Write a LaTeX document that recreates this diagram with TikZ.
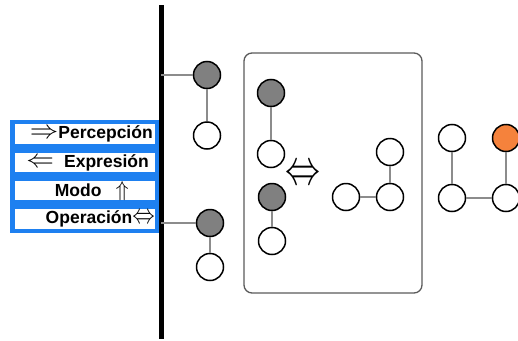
\documentclass[tikz,border=0pt]{standalone}
\usepackage{fontspec}
\setmainfont{Liberation Sans}
\usetikzlibrary{positioning}
\definecolor{panelblue}{RGB}{30,128,240}
\definecolor{linkgray}{RGB}{140,140,140}
\definecolor{dotgray}{RGB}{128,128,128}
\definecolor{hotorange}{RGB}{245,130,60}
\definecolor{framegray}{RGB}{90,90,90}

\begin{document}
\begin{tikzpicture}[x=1pt, y=-1pt,
        state/.style={circle, draw=black, line width=1.5pt, minimum size=27pt, inner sep=0pt},
        active/.style={state, fill=dotgray},
        idle/.style={state, fill=white},
        link/.style={draw=linkgray, line width=1.8pt},
        rowbox/.style={draw=panelblue, line width=4.5pt, fill=white, text width=140.5pt, inner sep=2pt, minimum height=23.75pt, align=right, font=\bfseries\fontsize{17.5}{17.5}\selectfont}]
        \useasboundingbox (0,0) rectangle (518,340);

        % mode panel
        \node[rowbox] (perc) at (84.5,134.1) {\scalebox{1.65}[1.5]{$\Rightarrow$}Percepción\kern2pt};
        \node[rowbox] (expr) at (84.5,162.4) {\scalebox{1.6}[1.5]{$\Leftarrow$}\hspace{10pt}Expresión\kern6pt};
        \node[rowbox] (mode) at (84.5,190.6) {Modo\hspace{14pt}\scalebox{1.25}{$\Uparrow$}\kern26pt};
        \node[rowbox] (oper) at (84.5,218.9) {Operación\scalebox{1.3}[1.6]{$\Leftrightarrow$}};

        % bar
        \coordinate (bartop) at (161,5);
        \coordinate (barbot) at (161,339);
        \draw[line width=5pt] (bartop) -- (barbot);

        % attached pairs
        \node[active] (g1) at (207,75) {};
        \node[idle] (w1) at (207,135.5) {};
        \node[active] (g2) at (210,223) {};
        \node[idle] (w2) at (210,267) {};
        \draw[link] (g1 -| bartop) -- (g1);
        \draw[link] (g1) -- (w1);
        \draw[link] (g2 -| bartop) -- (g2);
        \draw[link] (g2) -- (w2);

        % frame
        \node[draw=framegray, line width=1.3pt, rounded corners=8pt, minimum width=178pt, minimum height=240pt] (frame) at (333,173) {};
        \node[active] (g3) at (271,93) {};
        \node[idle] (w3) at (271,154) {};
        \node[active] (g4) at (272,197) {};
        \node[idle] (w4) at (272,241) {};
        \draw[link] (g3) -- (w3);
        \draw[link] (g4) -- (w4);
        \node (swap) at (303,175) {\scalebox{3.5}[5]{$\Leftrightarrow$}};
        \node[idle] (w5) at (346,197) {};
        \node[idle] (w6) at (390,197) {};
        \node[idle] (w7) at (390,152) {};
        \draw[link] (w5) -- (w6);
        \draw[link] (w6) -- (w7);

        % result
        \node[idle] (w8) at (452,138) {};
        \node[state, fill=hotorange] (o1) at (506,138) {};
        \node[idle] (w9) at (452,198) {};
        \node[idle] (w10) at (506,198) {};
        \draw[link] (w8) -- (w9);
        \draw[link] (o1) -- (w10);
        \draw[link] (w9) -- (w10);
    \end{tikzpicture}
\end{document}
